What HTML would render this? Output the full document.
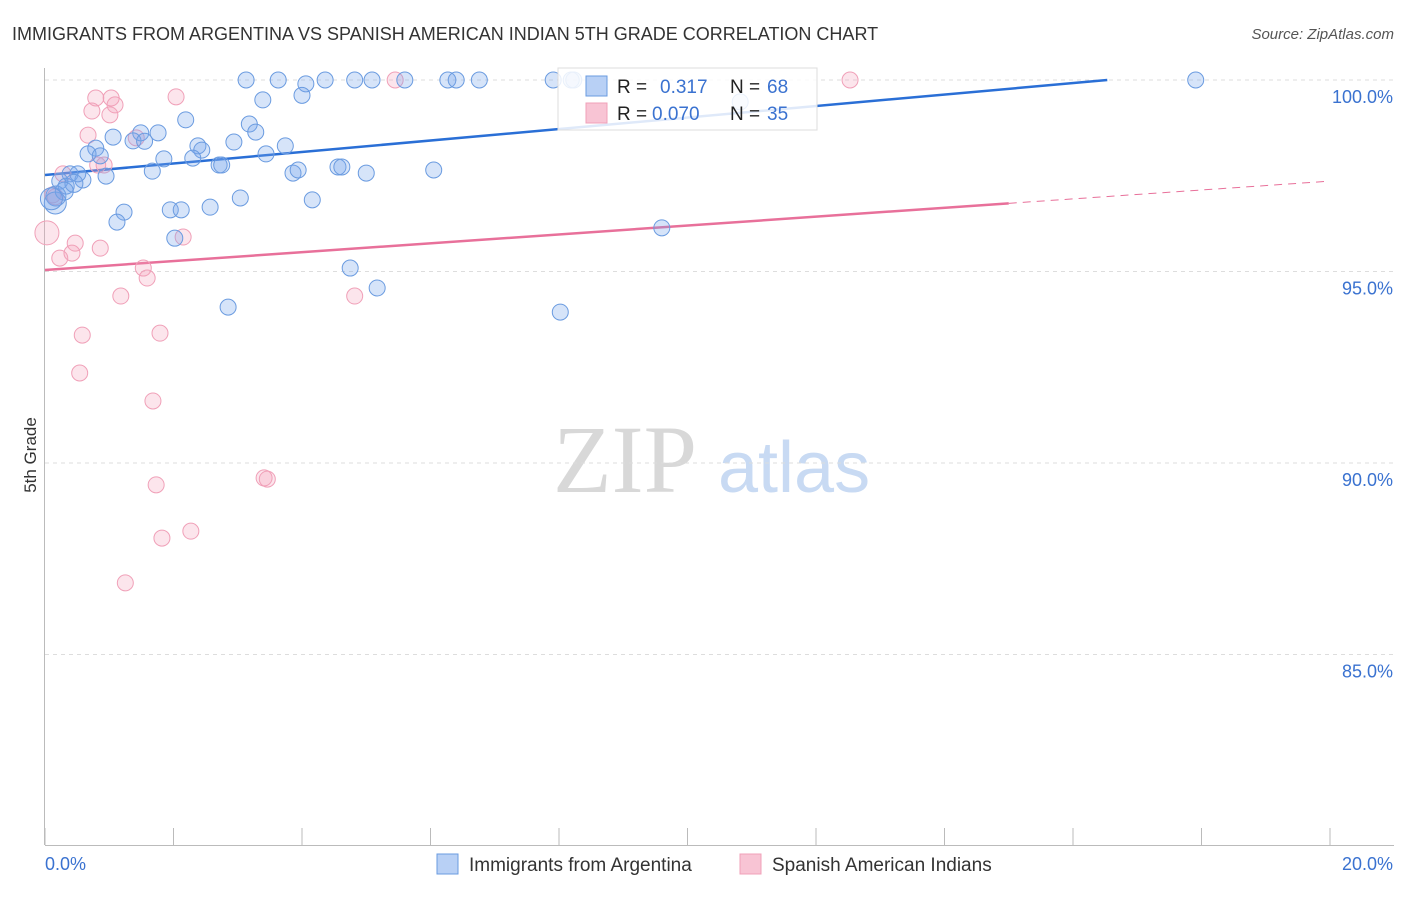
<!DOCTYPE html>
<html><head><meta charset="utf-8"><style>
body{margin:0;background:#fff;font-family:"Liberation Sans",sans-serif}
svg text{font-family:"Liberation Sans",sans-serif}
</style></head><body>
<svg id="c" width="1406" height="892">
<text x="12" y="40" font-size="18" fill="#333">IMMIGRANTS FROM ARGENTINA VS SPANISH AMERICAN INDIAN 5TH GRADE CORRELATION CHART</text>
<text x="1394" y="39" font-size="15" fill="#555" text-anchor="end" font-style="italic">Source: ZipAtlas.com</text>
<text x="36" y="455" font-size="17" fill="#333" transform="rotate(-90 36 455)" text-anchor="middle">5th Grade</text>
<g>
<text x="553" y="492" font-size="96" fill="#d8d8d8" font-family="Liberation Serif" style="font-family:'Liberation Serif',serif">ZIP</text>
<text x="718" y="492" font-size="72" fill="#c8daf3">atlas</text>
</g>
<g id="grid"></g><g id="axes"></g><g id="lines"></g><g id="pts"></g>
<g>
<rect x="558" y="68" width="259" height="62" fill="#fff" fill-opacity="0.85" stroke="#ddd"/>
<rect x="586" y="76" width="21" height="20" fill="#b8d0f5" stroke="#6a9be0"/>
<rect x="586" y="103" width="21" height="20" fill="#f8c4d4" stroke="#f0a0b8"/>
<text x="617" y="93" font-size="19" fill="#222">R = </text><text x="660" y="93" font-size="19" fill="#3a72d0">0.317</text>
<text x="730" y="93" font-size="19" fill="#222">N = </text><text x="767" y="93" font-size="19" fill="#3a72d0">68</text>
<text x="617" y="120" font-size="19" fill="#222">R = </text><text x="652" y="120" font-size="19" fill="#3a72d0">0.070</text>
<text x="730" y="120" font-size="19" fill="#222">N = </text><text x="767" y="120" font-size="19" fill="#3a72d0">35</text>
</g>
<g>
<rect x="437" y="854" width="21" height="20" fill="#b8d0f5" stroke="#6a9be0"/>
<text x="469" y="871" font-size="19" fill="#333">Immigrants from Argentina</text>
<rect x="740" y="854" width="21" height="20" fill="#f8c4d4" stroke="#f0a0b8"/>
<text x="772" y="871" font-size="19" fill="#333">Spanish American Indians</text>
</g>
</svg>
<script>
const yTicks=[100,95,90,85];
const yTickLabels=["100.0%","95.0%","90.0%","85.0%"];
const xTickLabels=["0.0%","20.0%"];
const blueX=[3.13,3.63,4.36,4.82,5.09,5.60,6.27,6.40,6.76,7.91,8.19,17.91,4.06,4.00,3.39,2.19,3.18,3.28,1.06,1.49,1.76,1.37,2.94,3.74,2.38,2.44,0.79,0.67,0.86,3.44,2.30,1.85,2.71,2.75,1.67,3.86,3.94,4.56,4.62,5.00,6.05,0.95,0.39,0.59,0.51,0.23,0.33,0.17,0.16,3.04,4.16,2.57,1.23,1.12,1.95,2.12,2.02,9.60,4.75,5.17,2.85,8.02,10.82,8.23,1.55,0.45,0.30,0.10];
const blueY=[100,100,100,100,100,100,100,100,100,100,100,100,99.9,99.6,99.48,98.96,98.85,98.64,98.51,98.62,98.62,98.41,98.38,98.28,98.28,98.17,98.22,98.07,98.02,98.07,97.96,97.94,97.78,97.78,97.62,97.57,97.65,97.73,97.73,97.57,97.65,97.49,97.55,97.39,97.55,97.36,97.23,96.97,96.79,96.92,96.87,96.68,96.55,96.29,96.61,96.61,95.87,96.14,95.09,94.57,94.07,93.94,99.43,100,98.4,97.3,97.1,96.9];
const blueR=[8,8,8,8,8,8,8,8,8,8,8,8,8,8,8,8,8,8,8,8,8,8,8,8,8,8,8,8,8,8,8,8,8,8,8,8,8,8,8,8,8,8,8,8,8,8,8,10,11,8,8,8,8,8,8,8,8,8,8,8,8,8,8,8,8,9,9,11];
const pinkX=[0.79,1.03,1.09,0.73,1.01,2.04,0.67,1.42,0.82,0.92,0.28,0.16,0.47,0.86,0.42,0.23,1.53,1.59,1.18,4.82,1.79,0.58,0.54,1.68,3.41,3.46,1.73,2.27,1.82,1.25,5.45,12.53,0.03,2.15,0.12];
const pinkY=[99.53,99.53,99.35,99.19,99.09,99.56,98.56,98.49,97.78,97.78,97.55,96.95,95.74,95.61,95.48,95.35,95.09,94.83,94.36,94.36,93.39,93.34,92.35,91.62,89.61,89.58,89.43,88.22,88.04,86.87,100,100,96.01,95.90,97.0];
const pinkR=[8,8,8,8,8,8,8,8,8,8,8,8,8,8,8,8,8,8,8,8,8,8,8,8,8,8,8,8,8,8,8,8,12,8,8];
const blueTrend=[97.52,0.150];
const pinkTrend=[95.04,0.116,15.0];
const X0=45,X1=1330,XMAX=20,YTOP=80,PXPER=38.3;
const sx=v=>X0+v/XMAX*(X1-X0);
const sy=v=>YTOP+(100-v)*PXPER;
const NS="http://www.w3.org/2000/svg";
function mk(p,t,a){const e=document.createElementNS(NS,t);for(const k in a)e.setAttribute(k,a[k]);p.appendChild(e);return e;}
const grid=document.getElementById('grid'),axes=document.getElementById('axes'),lines=document.getElementById('lines'),pts=document.getElementById('pts');
yTicks.forEach((t,i)=>{
const l=mk(grid,'line',{x1:45,x2:1394,y1:sy(t),y2:sy(t),stroke:'#ddd','stroke-dasharray':'4 4'});


const tx=mk(axes,'text',{x:1393,y:sy(t)+23,'font-size':18,fill:'#3a72d0','text-anchor':'end'});
tx.textContent=yTickLabels[i];


});
const ya=mk(axes,'line',{x1:44.5,x2:44.5,y1:68,y2:845,stroke:'#bbb'});


const xa=mk(axes,'line',{x1:45,x2:1394,y1:845.5,y2:845.5,stroke:'#bbb'});


for(let i=0;i<=10;i++){const tk=mk(axes,'line',{x1:sx(i*2),x2:sx(i*2),y1:828,y2:845,stroke:'#bbb'});

}
const xl0=mk(axes,'text',{x:45,y:870,'font-size':18,fill:'#3a72d0'});xl0.textContent=xTickLabels[0];


const xl1=mk(axes,'text',{x:1393,y:870,'font-size':18,fill:'#3a72d0','text-anchor':'end'});xl1.textContent=xTickLabels[1];


pinkX.forEach((x,i)=>{const c=mk(pts,'circle',{cx:sx(x),cy:sy(pinkY[i]),r:pinkR[i],fill:'rgba(244,160,188,0.28)',stroke:'#f0a0b8','stroke-width':1});

});
blueX.forEach((x,i)=>{const c=mk(pts,'circle',{cx:sx(x),cy:sy(blueY[i]),r:blueR[i],fill:'rgba(120,165,235,0.3)',stroke:'#6a9be0','stroke-width':1});

});
const bEnd=(100-blueTrend[0])/blueTrend[1];
const bl=mk(lines,'line',{x1:sx(0),y1:sy(blueTrend[0]),x2:sx(bEnd),y2:sy(100),stroke:'#2a6fd6','stroke-width':2.5});


const pl=mk(lines,'line',{x1:sx(0),y1:sy(pinkTrend[0]),x2:sx(pinkTrend[2]),y2:sy(pinkTrend[0]+pinkTrend[1]*pinkTrend[2]),stroke:'#e8709a','stroke-width':2.5});


const pd=mk(lines,'line',{x1:sx(pinkTrend[2]),y1:sy(pinkTrend[0]+pinkTrend[1]*pinkTrend[2]),x2:sx(20),y2:sy(pinkTrend[0]+pinkTrend[1]*20),stroke:'#e8709a','stroke-width':1,'stroke-dasharray':'8 6'});


</script>
</body></html>
